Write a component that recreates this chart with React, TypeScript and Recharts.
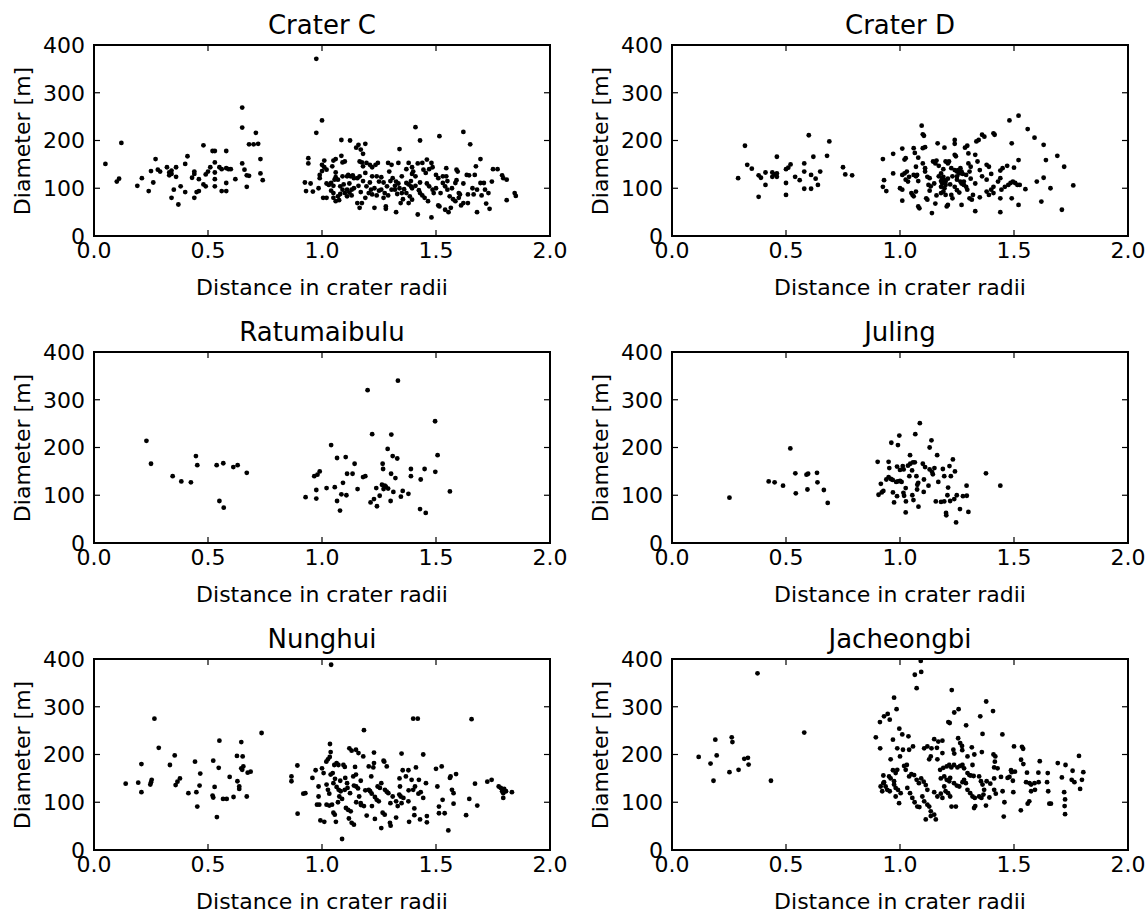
import React from 'react';
import { ScatterChart, Scatter, XAxis, YAxis, ReferenceArea } from 'recharts';

type Pt = [number, number];

const xTicks = [0, 0.5, 1, 1.5, 2];
const yTicks = [0, 100, 200, 300, 400];
const xTickLabels = ['0.0', '0.5', '1.0', '1.5', '2.0'];

const craterC: Pt[] = [
  [0.05, 151], [0.10, 114], [0.11, 120], [0.12, 195], [0.19, 105], [0.21, 121], [0.24, 94], [0.25, 136],
  [0.26, 112], [0.27, 161], [0.28, 139], [0.29, 135], [0.32, 144], [0.33, 127], [0.33, 133], [0.34, 137],
  [0.34, 130], [0.35, 97], [0.34, 80], [0.36, 144], [0.36, 124], [0.37, 66], [0.38, 104], [0.40, 151],
  [0.40, 92], [0.41, 167], [0.43, 122], [0.44, 135], [0.44, 130], [0.44, 80], [0.45, 92], [0.46, 94],
  [0.46, 119], [0.48, 190], [0.48, 108], [0.49, 104], [0.49, 129], [0.50, 135], [0.52, 178], [0.53, 178],
  [0.53, 154], [0.53, 133], [0.53, 119], [0.53, 104], [0.51, 144], [0.55, 144], [0.56, 140], [0.56, 94],
  [0.58, 94], [0.58, 178], [0.58, 142], [0.59, 140], [0.60, 140], [0.58, 111], [0.62, 119], [0.65, 227],
  [0.65, 269], [0.65, 152], [0.66, 139], [0.67, 127], [0.68, 126], [0.67, 103], [0.68, 192], [0.70, 192],
  [0.72, 193], [0.71, 216], [0.73, 161], [0.73, 131], [0.74, 117],
  [0.975, 371], [1.0, 242], [0.975, 216], [1.085, 201], [1.123, 200], [1.15, 185], [1.16, 191], [1.19, 193],
  [1.17, 181], [1.18, 172], [1.41, 228], [1.43, 200], [1.515, 209], [1.62, 218], [1.65, 192], [1.34, 182],
  [0.94, 163], [0.94, 152], [0.925, 112], [0.93, 94], [0.95, 110], [0.96, 93], [0.99, 128], [0.99, 121],
  [1.0, 149], [1.01, 158], [1.01, 144], [1.02, 139], [1.0, 136], [0.985, 100], [1.005, 80], [1.02, 80],
  [1.03, 107], [1.04, 111], [1.05, 105], [1.05, 158], [1.06, 161], [1.045, 146], [1.06, 133], [1.06, 123],
  [1.055, 118], [1.05, 80], [1.06, 73], [1.075, 75], [1.05, 90], [1.07, 83], [1.085, 168], [1.09, 154],
  [1.1, 156], [1.08, 104], [1.09, 97], [1.095, 108], [1.1, 90], [1.11, 125], [1.115, 128], [1.125, 125],
  [1.135, 127], [1.14, 121], [1.11, 97], [1.12, 91], [1.13, 97], [1.11, 83], [1.155, 69], [1.175, 69],
  [1.165, 59], [1.165, 156], [1.175, 154], [1.18, 146], [1.155, 121], [1.165, 125], [1.19, 132], [1.195, 104],
  [1.205, 90], [1.215, 97], [1.22, 87], [1.195, 153], [1.21, 149], [1.22, 144], [1.235, 149], [1.245, 153],
  [1.23, 59], [1.24, 125], [1.25, 114], [1.26, 123], [1.26, 97], [1.275, 90], [1.285, 104], [1.27, 80],
  [1.28, 62], [1.28, 57], [1.29, 153], [1.305, 149], [1.295, 135], [1.31, 121], [1.325, 114], [1.335, 110],
  [1.325, 50], [1.305, 97], [1.32, 97], [1.34, 100], [1.35, 90], [1.335, 153], [1.345, 69], [1.355, 77],
  [1.37, 111], [1.38, 108], [1.39, 104], [1.395, 100], [1.395, 130], [1.4, 135], [1.41, 125], [1.38, 153],
  [1.395, 144], [1.37, 90], [1.385, 83], [1.395, 76], [1.38, 69], [1.42, 45], [1.425, 96], [1.43, 90],
  [1.42, 152], [1.44, 153], [1.445, 139], [1.455, 132], [1.46, 160], [1.48, 153], [1.485, 144], [1.47, 104],
  [1.485, 97], [1.49, 90], [1.45, 80], [1.465, 73], [1.48, 39], [1.5, 128], [1.51, 121], [1.51, 64],
  [1.515, 62], [1.53, 111], [1.54, 104], [1.55, 97], [1.53, 125], [1.545, 142], [1.545, 125], [1.54, 55],
  [1.555, 50], [1.565, 59], [1.56, 83], [1.575, 77], [1.585, 73], [1.59, 139], [1.595, 135], [1.59, 117],
  [1.585, 111], [1.6, 90], [1.605, 87], [1.61, 64], [1.62, 69], [1.635, 128], [1.645, 127], [1.64, 87],
  [1.64, 69], [1.665, 87], [1.675, 146], [1.67, 128], [1.68, 97], [1.68, 50], [1.695, 111], [1.71, 111],
  [1.715, 97], [1.73, 90], [1.695, 161], [1.72, 68], [1.735, 57], [1.75, 140], [1.77, 140], [1.745, 114],
  [1.79, 127], [1.795, 121], [1.81, 118], [1.81, 75], [1.845, 90], [1.85, 84],
  [1.02, 110], [1.04, 95], [1.07, 118], [1.08, 88], [1.09, 125], [1.12, 110], [1.13, 85], [1.14, 100],
  [1.16, 105], [1.17, 92], [1.18, 115], [1.19, 80], [1.21, 112], [1.22, 125], [1.23, 100], [1.24, 85],
  [1.25, 95], [1.27, 112], [1.29, 85], [1.3, 115], [1.32, 105], [1.33, 88], [1.35, 125], [1.36, 98],
  [1.37, 140], [1.39, 115], [1.41, 105], [1.43, 112], [1.44, 85], [1.46, 110], [1.47, 140], [1.5, 100],
  [1.52, 90], [1.55, 115], [1.57, 100], [1.6, 80], [1.62, 110], [1.66, 100], [1.7, 85],
];

const craterD: Pt[] = [
  [0.29, 121], [0.32, 189], [0.33, 149], [0.35, 141], [0.38, 127], [0.39, 122], [0.38, 82], [0.41, 133],
  [0.41, 107], [0.44, 133], [0.44, 124], [0.45, 129], [0.46, 131], [0.46, 124], [0.46, 166], [0.50, 140],
  [0.51, 143], [0.52, 150], [0.50, 111], [0.50, 86], [0.54, 124], [0.56, 117], [0.58, 152], [0.58, 135],
  [0.58, 99], [0.61, 99], [0.60, 211], [0.61, 128], [0.62, 166], [0.63, 120], [0.64, 107], [0.65, 135],
  [0.68, 168], [0.69, 198], [0.75, 144], [0.76, 129], [0.79, 127],
  [0.925, 161], [0.93, 117], [0.925, 103], [0.94, 94], [0.97, 172], [0.97, 131], [1.0, 100], [1.01, 97],
  [1.01, 183], [1.01, 74], [1.02, 160], [1.025, 163], [1.01, 128], [1.02, 131], [1.03, 135], [1.025, 118],
  [1.035, 114], [1.04, 124], [1.05, 90], [1.055, 86], [1.06, 83], [1.07, 93], [1.06, 184], [1.065, 174],
  [1.08, 164], [1.07, 145], [1.075, 128], [1.07, 125], [1.08, 62], [1.085, 58], [1.095, 231], [1.1, 213],
  [1.105, 210], [1.1, 152], [1.11, 142], [1.1, 184], [1.11, 186], [1.115, 79], [1.12, 76], [1.12, 124],
  [1.13, 121], [1.125, 107], [1.135, 104], [1.14, 48], [1.145, 156], [1.155, 152], [1.16, 158], [1.17, 147],
  [1.155, 68], [1.16, 85], [1.165, 194], [1.18, 131], [1.185, 121], [1.19, 124], [1.195, 117], [1.2, 114],
  [1.185, 110], [1.18, 103], [1.195, 100], [1.2, 107], [1.18, 90], [1.19, 93], [1.2, 86], [1.195, 185],
  [1.2, 156], [1.21, 152], [1.215, 156], [1.205, 62], [1.21, 65], [1.225, 86], [1.23, 79], [1.24, 201],
  [1.24, 193], [1.225, 142], [1.24, 138], [1.25, 135], [1.255, 138], [1.265, 142], [1.26, 131], [1.27, 135],
  [1.275, 130], [1.24, 170], [1.245, 167], [1.24, 103], [1.25, 96], [1.26, 91], [1.27, 65], [1.25, 125],
  [1.265, 114], [1.28, 107], [1.28, 114], [1.29, 103], [1.295, 97], [1.285, 185], [1.295, 189], [1.3, 173],
  [1.3, 152], [1.31, 145], [1.305, 135], [1.305, 79], [1.32, 86], [1.315, 76], [1.33, 52], [1.335, 198],
  [1.345, 201], [1.33, 170], [1.34, 156], [1.35, 138], [1.35, 81], [1.36, 212], [1.37, 208], [1.38, 149],
  [1.39, 145], [1.38, 93], [1.39, 86], [1.4, 97], [1.41, 90], [1.41, 103], [1.41, 215], [1.415, 212],
  [1.43, 114], [1.44, 121], [1.44, 79], [1.445, 97], [1.44, 50], [1.44, 137], [1.45, 142], [1.47, 147],
  [1.46, 103], [1.475, 107], [1.485, 111], [1.495, 114], [1.505, 111], [1.515, 107], [1.525, 107], [1.48, 242],
  [1.49, 194], [1.5, 143], [1.49, 79], [1.52, 252], [1.52, 159], [1.52, 65], [1.55, 98], [1.56, 224],
  [1.59, 206], [1.6, 114], [1.62, 72], [1.63, 122], [1.63, 191], [1.64, 159], [1.66, 100], [1.69, 168],
  [1.71, 55], [1.72, 145], [1.76, 106],
  [1.15, 110], [1.17, 125], [1.18, 115], [1.19, 140], [1.21, 120], [1.22, 108], [1.23, 125], [1.25, 118],
  [1.26, 135], [1.27, 110], [1.29, 128], [1.31, 120], [1.33, 110], [1.36, 125], [1.38, 118], [1.4, 130],
  [1.11, 135], [1.13, 95], [1.08, 115], [1.06, 128],
];

const ratumaibulu: Pt[] = [
  [0.23, 214], [0.25, 166], [0.345, 140], [0.383, 129], [0.425, 127], [0.447, 182], [0.453, 163], [0.538, 163],
  [0.567, 167], [0.55, 88], [0.569, 74], [0.611, 159], [0.63, 163], [0.67, 147],
  [0.928, 96], [0.966, 140], [0.975, 93], [0.975, 111], [0.98, 143], [0.99, 150], [1.02, 115], [1.04, 205],
  [1.056, 117], [1.066, 178], [1.066, 88], [1.079, 68], [1.085, 102], [1.092, 126], [1.104, 180], [1.107, 100],
  [1.11, 145], [1.134, 145], [1.143, 166], [1.156, 113], [1.18, 138], [1.19, 140], [1.2, 320], [1.213, 85],
  [1.22, 228], [1.228, 92], [1.238, 115], [1.241, 77], [1.253, 99], [1.263, 122], [1.266, 166], [1.268, 155],
  [1.27, 113], [1.28, 118], [1.29, 114], [1.275, 120], [1.304, 227], [1.303, 145], [1.301, 88], [1.313, 107],
  [1.288, 197], [1.31, 182], [1.33, 177], [1.322, 136], [1.333, 340], [1.346, 97], [1.354, 109], [1.379, 103],
  [1.39, 140], [1.39, 155], [1.433, 133], [1.43, 71], [1.45, 155], [1.455, 63], [1.496, 255], [1.497, 149],
  [1.507, 184], [1.561, 108],
];

const juling: Pt[] = [
  [0.252, 95], [0.424, 129], [0.45, 127], [0.487, 120], [0.519, 198], [0.541, 146], [0.543, 104], [0.59, 143],
  [0.597, 145], [0.594, 112], [0.636, 147], [0.638, 127], [0.666, 111], [0.683, 84],
  [0.902, 170], [0.906, 101], [0.92, 106], [0.927, 109], [0.916, 124], [0.94, 133], [0.95, 138], [0.96, 134],
  [0.968, 132], [0.95, 170], [0.953, 157], [0.962, 210], [0.969, 106], [0.974, 85], [0.987, 160], [0.983, 128],
  [0.991, 129], [1.0, 130], [1.007, 128], [0.991, 205], [0.997, 225], [0.987, 98], [1.0, 153], [1.016, 154],
  [1.012, 161], [1.015, 105], [1.018, 99], [1.025, 115], [1.026, 87], [1.025, 64], [1.035, 162], [1.045, 166],
  [1.057, 169], [1.065, 169], [1.041, 140], [1.053, 152], [1.044, 184], [1.054, 100], [1.059, 90], [1.067, 228],
  [1.072, 140], [1.076, 122], [1.08, 126], [1.075, 112], [1.081, 76], [1.087, 251], [1.1, 166], [1.11, 159],
  [1.105, 133], [1.104, 107], [1.125, 120], [1.13, 200], [1.138, 215], [1.13, 154], [1.14, 149], [1.144, 144],
  [1.151, 157], [1.157, 87], [1.18, 86], [1.194, 87], [1.163, 184], [1.168, 128], [1.188, 155], [1.194, 140],
  [1.202, 63], [1.203, 58], [1.208, 100], [1.211, 116], [1.217, 161], [1.223, 140], [1.22, 88], [1.232, 175],
  [1.238, 92], [1.249, 100], [1.241, 150], [1.246, 43], [1.263, 71], [1.276, 98], [1.293, 99], [1.292, 120],
  [1.3, 65], [1.377, 146], [1.44, 120],
];

const nunghui: Pt[] = [
  [0.139, 139], [0.194, 141], [0.208, 180], [0.208, 121], [0.247, 137], [0.25, 142], [0.253, 147], [0.265, 275],
  [0.284, 214], [0.333, 178], [0.354, 198], [0.358, 136], [0.366, 143], [0.377, 150], [0.414, 119], [0.443, 185],
  [0.449, 121], [0.453, 91], [0.463, 135], [0.466, 160], [0.523, 187], [0.52, 114], [0.523, 110], [0.529, 132],
  [0.539, 69], [0.547, 172], [0.55, 229], [0.566, 107], [0.582, 107], [0.595, 153], [0.612, 111], [0.627, 197],
  [0.629, 144], [0.637, 133], [0.637, 128], [0.646, 226], [0.652, 196], [0.646, 171], [0.65, 168], [0.655, 175],
  [0.67, 112], [0.674, 162], [0.687, 164], [0.735, 245],
  [0.866, 154], [0.866, 144], [0.892, 177], [0.893, 76], [0.918, 118], [0.927, 119], [0.958, 151], [0.972, 167],
  [0.985, 133], [0.985, 112], [0.978, 95], [0.988, 95], [0.993, 62], [1.01, 59], [1.0, 171], [1.007, 161],
  [1.019, 185], [1.026, 190], [1.034, 195], [1.035, 222], [1.038, 205], [1.04, 388], [1.02, 137], [1.026, 126],
  [1.032, 118], [1.02, 95], [1.032, 93], [1.044, 95], [1.038, 158], [1.047, 161], [1.057, 149], [1.05, 78],
  [1.056, 74], [1.054, 178], [1.064, 182], [1.072, 178], [1.064, 132], [1.073, 126], [1.082, 123], [1.076, 112],
  [1.088, 107], [1.061, 59], [1.094, 178], [1.1, 174], [1.102, 151], [1.088, 23], [1.1, 126], [1.112, 130],
  [1.123, 119], [1.105, 88], [1.115, 84], [1.126, 81], [1.118, 66], [1.13, 57], [1.14, 53], [1.12, 213],
  [1.13, 208], [1.149, 210], [1.16, 203], [1.137, 154], [1.149, 158], [1.145, 174], [1.15, 133], [1.158, 129],
  [1.163, 112], [1.17, 98], [1.171, 94], [1.184, 92], [1.181, 196], [1.184, 251], [1.196, 72], [1.205, 175],
  [1.225, 173], [1.216, 154], [1.205, 126], [1.211, 123], [1.218, 118], [1.219, 92], [1.228, 204], [1.228, 182],
  [1.232, 111], [1.24, 105], [1.249, 102], [1.244, 133], [1.254, 130], [1.232, 65], [1.26, 46], [1.27, 187],
  [1.273, 185], [1.276, 126], [1.284, 122], [1.291, 119], [1.284, 175], [1.266, 78], [1.275, 74], [1.298, 57],
  [1.301, 51], [1.3, 98], [1.31, 112], [1.325, 102], [1.332, 92], [1.325, 68], [1.339, 116], [1.345, 112],
  [1.349, 98], [1.342, 133], [1.349, 202], [1.354, 167], [1.368, 154], [1.379, 167], [1.357, 109], [1.379, 102],
  [1.382, 59], [1.393, 147], [1.4, 126], [1.408, 133], [1.4, 275], [1.42, 275], [1.412, 173], [1.405, 87],
  [1.405, 73], [1.423, 118], [1.43, 64], [1.425, 147], [1.433, 121], [1.444, 109], [1.444, 200], [1.456, 140],
  [1.46, 58], [1.46, 71], [1.5, 170], [1.506, 133], [1.513, 91], [1.513, 77], [1.525, 175], [1.529, 105],
  [1.538, 77], [1.561, 151], [1.564, 154], [1.57, 126], [1.577, 119], [1.554, 41], [1.577, 97], [1.588, 159],
  [1.632, 73], [1.646, 107], [1.656, 274], [1.671, 139], [1.681, 93], [1.725, 143], [1.744, 147], [1.775, 133],
  [1.784, 130], [1.79, 123], [1.795, 119], [1.799, 128], [1.807, 123], [1.795, 109], [1.833, 121],
  [1.05, 140], [1.08, 145], [1.11, 140], [1.14, 135], [1.17, 145], [1.19, 125], [1.07, 100], [1.15, 100],
  [1.26, 140], [1.34, 150], [1.38, 125],
];

const jacheongbi: Pt[] = [
  [0.117, 195], [0.169, 181], [0.182, 145], [0.19, 231], [0.196, 198], [0.252, 163], [0.262, 236], [0.265, 226],
  [0.292, 168], [0.317, 191], [0.333, 193], [0.336, 179], [0.375, 370], [0.434, 145], [0.58, 246],
  [1.091, 396], [1.065, 367], [1.093, 373], [1.073, 339], [0.974, 319], [0.985, 295], [1.227, 335], [1.378, 311],
  [1.408, 291], [1.449, 242], [1.352, 280], [1.257, 295], [1.238, 288], [1.212, 268], [1.218, 266], [1.29, 261],
  [1.362, 243], [1.5, 217], [1.535, 216], [1.54, 212], [1.785, 197], [1.613, 186], [0.894, 236], [0.912, 268],
  [0.93, 280], [0.946, 285], [0.913, 213], [0.955, 273], [0.969, 231], [0.997, 254], [1.01, 242], [1.037, 238],
  [0.959, 190], [0.988, 213], [1.0, 196], [1.013, 210], [1.04, 210], [1.057, 217], [1.106, 213], [1.12, 217],
  [1.138, 213], [1.162, 214], [1.168, 227], [1.186, 229], [1.128, 190], [1.135, 196], [1.164, 190], [1.186, 203],
  [1.15, 232], [1.234, 210], [1.238, 202], [1.255, 234], [1.264, 224], [1.272, 218], [1.273, 209], [1.296, 196],
  [1.315, 215], [1.326, 200], [1.359, 205], [1.41, 200], [1.418, 196], [1.416, 185], [1.428, 171], [1.487, 167],
  [1.504, 164], [1.531, 189], [1.541, 180], [1.557, 162], [1.607, 162], [1.553, 142], [1.568, 140], [1.575, 137],
  [1.59, 140], [1.608, 142], [1.648, 161], [1.645, 142], [1.65, 123], [1.655, 97], [1.662, 97], [1.692, 182],
  [1.726, 178], [1.71, 152], [1.72, 121], [1.724, 106], [1.722, 92], [1.724, 75], [1.757, 166], [1.753, 147],
  [1.765, 142], [1.79, 128], [1.798, 147], [1.804, 163], [1.495, 145], [1.497, 121], [1.49, 163], [1.45, 123],
  [1.458, 100], [1.455, 70], [1.443, 153], [1.472, 151], [1.48, 153], [1.413, 173], [1.413, 150], [1.413, 126],
  [1.42, 118], [1.396, 139], [1.392, 110], [1.377, 93], [1.56, 97], [1.567, 102], [1.53, 83], [1.592, 126],
  [1.575, 123],
  [0.927, 156], [0.93, 142], [0.927, 140], [0.915, 133], [0.922, 123], [0.937, 133], [0.944, 126], [0.955, 123],
  [0.952, 154], [0.959, 150], [0.969, 167], [0.981, 161], [0.988, 168], [0.974, 137], [0.981, 130], [0.991, 126],
  [1.003, 119], [0.981, 112], [0.996, 98], [0.974, 144], [1.018, 176], [1.025, 168], [1.03, 178], [1.04, 154],
  [1.05, 159], [1.062, 157], [1.073, 147], [1.083, 140], [1.032, 130], [1.044, 119], [1.054, 109], [1.064, 100],
  [1.076, 91], [1.085, 90], [1.093, 150], [1.104, 143], [1.113, 136], [1.12, 126], [1.098, 112], [1.106, 102],
  [1.12, 95], [1.128, 91], [1.135, 81], [1.113, 64], [1.135, 71], [1.15, 74], [1.157, 64], [1.15, 121],
  [1.164, 112], [1.179, 118], [1.186, 109], [1.176, 168], [1.19, 172], [1.205, 175], [1.216, 178], [1.225, 173],
  [1.237, 178], [1.252, 173], [1.179, 150], [1.194, 154], [1.205, 147], [1.216, 144], [1.22, 151], [1.194, 133],
  [1.2, 123], [1.211, 119], [1.22, 112], [1.226, 91], [1.245, 91], [1.237, 140], [1.249, 135], [1.26, 133],
  [1.274, 142], [1.281, 147], [1.264, 176], [1.274, 178], [1.281, 171], [1.296, 161], [1.304, 157], [1.289, 140],
  [1.296, 126], [1.308, 119], [1.318, 112], [1.328, 109], [1.325, 88], [1.33, 92], [1.347, 154], [1.355, 144],
  [1.362, 137], [1.369, 126], [1.347, 112], [1.357, 109], [1.366, 116], [1.38, 144], [1.31, 156], [1.318, 178],
  [1.323, 155],
];

const panels = [
  { title: 'Crater C', data: craterC },
  { title: 'Crater D', data: craterD },
  { title: 'Ratumaibulu', data: ratumaibulu },
  { title: 'Juling', data: juling },
  { title: 'Nunghui', data: nunghui },
  { title: 'Jacheongbi', data: jacheongbi },
];

const FONT = '"DejaVu Sans", sans-serif';
const PLOT_W = 456;
const PLOT_H = 191;
const CHART_W = 600;
const CHART_H = 283;
const MARGIN = { top: 30, right: 54, bottom: 0, left: 0 };
const Y_AXIS_W = 90;
const TICK_LEN = 6;

const XTick = (props: any) => {
  const { x, y, payload } = props;
  const idx = xTicks.indexOf(payload.value);
  return (
    <g>
      <line x1={x} y1={y} x2={x} y2={y - TICK_LEN} stroke="#000" strokeWidth={1.2} />
      <line x1={x} y1={y - PLOT_H} x2={x} y2={y - PLOT_H + TICK_LEN} stroke="#000" strokeWidth={1.2} />
      <text x={x} y={y + 22} textAnchor="middle" fontSize={22} fontFamily={FONT} fill="#000">
        {xTickLabels[idx] ?? payload.value}
      </text>
    </g>
  );
};

const YTick = (props: any) => {
  const { x, y, payload } = props;
  return (
    <g>
      <line x1={x} y1={y} x2={x + TICK_LEN} y2={y} stroke="#000" strokeWidth={1.2} />
      <line x1={x + PLOT_W} y1={y} x2={x + PLOT_W - TICK_LEN} y2={y} stroke="#000" strokeWidth={1.2} />
      <text x={x - 9} y={y} dy="0.36em" textAnchor="end" fontSize={22} fontFamily={FONT} fill="#000">
        {payload.value}
      </text>
    </g>
  );
};

const Dot = (props: any) => <circle cx={props.cx} cy={props.cy} r={2.4} fill="#000" />;

const Panel = ({ title, data, left, top }: { title: string; data: Pt[]; left: number; top: number }) => {
  const points = data.map(([x, y]) => ({ x, y }));
  const chartLeft = left - MARGIN.left - Y_AXIS_W;
  const chartTop = top - MARGIN.top;
  return (
    <>
      <div style={{ position: 'absolute', left: chartLeft, top: chartTop }}>
        <ScatterChart width={CHART_W} height={CHART_H} margin={MARGIN}>
          <XAxis
            type="number"
            dataKey="x"
            domain={[0, 2]}
            ticks={xTicks}
            interval={0}
            height={62}
            axisLine={false}
            tickLine={false}
            tickSize={0}
            tickMargin={0}
            tick={<XTick />}
          />
          <YAxis
            type="number"
            dataKey="y"
            domain={[0, 400]}
            ticks={yTicks}
            interval={0}
            width={Y_AXIS_W}
            axisLine={false}
            tickLine={false}
            tickSize={0}
            tickMargin={0}
            tick={<YTick />}
          />
          <Scatter data={points} fill="#000" shape={<Dot />} isAnimationActive={false} />
          <ReferenceArea x1={0} x2={2} y1={0} y2={400} fill="none" stroke="#000" strokeWidth={2} />
        </ScatterChart>
      </div>
      <div
        style={{
          position: 'absolute', left, top: top - 36, width: PLOT_W, textAlign: 'center',
          fontFamily: FONT, fontSize: 26, lineHeight: '32px', color: '#000',
        }}
      >
        {title}
      </div>
      <div
        style={{
          position: 'absolute', left, top: top + PLOT_H + 39, width: PLOT_W, textAlign: 'center',
          fontFamily: FONT, fontSize: 22, lineHeight: '26px', color: '#000',
        }}
      >
        Distance in crater radii
      </div>
      <div
        style={{
          position: 'absolute', left: left - 72 - PLOT_H / 2, top: top + PLOT_H / 2 - 13, width: PLOT_H,
          height: 26, textAlign: 'center', transform: 'rotate(-90deg)', whiteSpace: 'nowrap',
          fontFamily: FONT, fontSize: 22, lineHeight: '26px', color: '#000',
        }}
      >
        Diameter [m]
      </div>
    </>
  );
};

export default function App() {
  return (
    <div style={{ position: 'absolute', left: 0, top: 0, width: 1145, height: 913, background: '#fff', overflow: 'hidden' }}>
      {panels.map((p, i) => (
        <Panel
          key={p.title}
          title={p.title}
          data={p.data}
          left={i % 2 === 0 ? 94 : 672}
          top={45 + Math.floor(i / 2) * 307}
        />
      ))}
    </div>
  );
}
